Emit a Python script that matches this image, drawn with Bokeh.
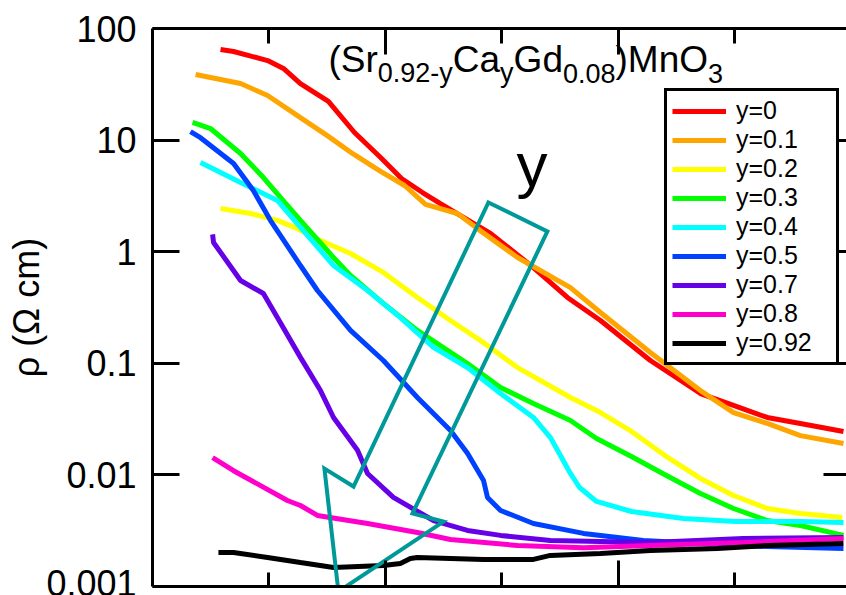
from bokeh.plotting import figure
from bokeh.models import LinearAxis, LogAxis, FixedTicker, Label, CustomJSTickFormatter
from bokeh.embed import file_html
from bokeh.resources import INLINE

# ---- data (temperature in K, resistivity in ohm cm) ----
T_y0 = [29.2, 34.8, 49.4, 56.2, 63.5, 75.5, 86.7, 97.9, 106.9, 115.9, 123.6, 137.8, 145.1, 163.5, 178.1, 192.3, 213.7, 235.2, 249.4, 263.9, 278.1, 296.6]
rho_y0 = [64.8, 62.2, 51.6, 43.9, 32.1, 22.2, 11.7, 6.98, 4.53, 3.39, 2.70, 1.79, 1.46, 0.721, 0.389, 0.242, 0.106, 0.0536, 0.0419, 0.0327, 0.0289, 0.0245]

T_y01 = [18.5, 37.8, 49.4, 63.5, 75.5, 85.8, 97.9, 108.2, 117.2, 130.9, 139.5, 156.7, 179.4, 192.3, 213.7, 235.2, 249.4, 263.9, 278.1, 296.6]
rho_y01 = [38.7, 32.1, 25.1, 15.9, 10.8, 7.59, 5.24, 3.92, 2.65, 2.20, 1.61, 0.887, 0.477, 0.285, 0.125, 0.0570, 0.0362, 0.0289, 0.0225, 0.0191]

T_y02 = [29.2, 42.1, 53.6, 62.2, 69.1, 85.0, 99.1, 113.7, 127.9, 142.1, 156.7, 179.4, 192.3, 205.6, 220.6, 235.2, 249.4, 263.9, 278.1, 296.1]
rho_y02 = [2.44, 2.20, 1.91, 1.61, 1.34, 0.964, 0.652, 0.389, 0.242, 0.153, 0.0916, 0.0494, 0.0362, 0.0245, 0.0146, 0.00929, 0.00654, 0.00500, 0.00451, 0.00415]

T_y03 = [17.2, 24.9, 37.8, 47.6, 54.9, 63.5, 77.7, 85.0, 99.1, 113.7, 135.2, 149.4, 163.5, 179.4, 190.6, 205.6, 220.6, 235.2, 249.4, 263.9, 278.1, 296.6]
rho_y03 = [14.4, 12.7, 7.59, 4.62, 3.06, 1.91, 0.887, 0.612, 0.344, 0.197, 0.0995, 0.0607, 0.0436, 0.0307, 0.0212, 0.0146, 0.00989, 0.00681, 0.00500, 0.00390, 0.00352, 0.00287]

T_y04 = [20.6, 37.8, 53.6, 63.5, 77.7, 92.3, 106.4, 120.6, 135.2, 149.4, 163.5, 170.8, 179.4, 183.3, 190.6, 205.6, 227.9, 250.2, 278.1, 296.6]
rho_y04 = [6.30, 4.17, 2.88, 1.65, 0.752, 0.449, 0.257, 0.139, 0.0916, 0.0536, 0.0327, 0.0216, 0.0103, 0.00771, 0.00578, 0.00470, 0.00406, 0.00382, 0.00382, 0.00374]

T_y05 = [16.3, 20.6, 34.8, 43.3, 50.6, 63.5, 70.8, 85.0, 99.1, 113.7, 127.9, 135.2, 142.1, 143.8, 149.4, 163.5, 185.0, 210.7, 235.2, 263.9, 296.6]
rho_y05 = [11.9, 10.5, 6.17, 3.53, 1.91, 0.752, 0.449, 0.197, 0.106, 0.0494, 0.0250, 0.0156, 0.00891, 0.00628, 0.00480, 0.00367, 0.00299, 0.00258, 0.00243, 0.00228, 0.00219]

T_y07 = [25.8, 26.2, 37.8, 47.6, 53.6, 63.5, 72.1, 77.7, 88.0, 92.3, 103.4, 120.6, 135.2, 149.4, 170.8, 213.7, 253.6, 296.6]
rho_y07 = [1.43, 1.21, 0.552, 0.422, 0.257, 0.113, 0.0570, 0.0327, 0.0166, 0.0103, 0.00628, 0.00390, 0.00318, 0.00287, 0.00258, 0.00248, 0.00269, 0.00275]

T_y08 = [25.8, 34.8, 57.9, 63.5, 70.8, 92.3, 113.7, 127.9, 156.7, 185.0, 213.7, 253.6, 296.6]
rho_y08 = [0.0143, 0.0109, 0.00590, 0.00532, 0.00433, 0.00367, 0.00305, 0.00264, 0.00233, 0.00223, 0.00233, 0.00248, 0.00269]

T_y092 = [28.3, 34.8, 49.4, 63.5, 77.7, 99.1, 106.4, 110.7, 113.7, 142.1, 163.5, 170.8, 192.3, 213.7, 242.5, 263.9, 296.6]
rho_y092 = [0.00202, 0.00202, 0.00182, 0.00164, 0.00148, 0.00154, 0.00161, 0.00178, 0.00182, 0.00175, 0.00175, 0.00190, 0.00198, 0.00210, 0.00219, 0.00233, 0.00243]

labels = ["y=0", "y=0.1", "y=0.2", "y=0.3", "y=0.4", "y=0.5", "y=0.7", "y=0.8", "y=0.92"]
colors = ["#FF0000", "#FFA500", "#FFFF00", "#00FF00", "#00FFFF", "#0040FF", "#6600E6", "#FF00CC", "#000000"]
series_T = [T_y0, T_y01, T_y02, T_y03, T_y04, T_y05, T_y07, T_y08, T_y092]
series_rho = [rho_y0, rho_y01, rho_y02, rho_y03, rho_y04, rho_y05, rho_y07, rho_y08, rho_y092]

# arrow annotation (in data coordinates)
arrow_T = [144.2, 169.5, 111.6, 124.9, 79.8, 73.8, 86.3]
arrow_rho = [2.76, 1.52, 0.00451, 0.00382, 0.000901, 0.0114, 0.00787]

y_ticks = [0.001, 0.01, 0.1, 1, 10, 100]
y_tick_labels = ["0.001", "0.01", "0.1", "1", "10", "100"]
x_major = [100, 200, 300]
x_minor = [50, 150, 250]

FONT = "Liberation Sans"

p = figure(width=846, height=595, y_axis_type="log",
           x_range=(0, 297.9), y_range=(0.001, 100),
           output_backend="svg", toolbar_location=None,
           min_border_left=152, min_border_right=0,
           min_border_top=28, min_border_bottom=9)
p.outline_line_color = None
p.grid.visible = False
p.background_fill_color = "white"

for T, rho, lab_, col in zip(series_T, series_rho, labels, colors):
    p.line(T, rho, line_color=col, line_width=5, legend_label=lab_)

p.patch(arrow_T, arrow_rho, fill_color=None, line_color="#009999",
        line_width=4, line_join="miter")

blank = CustomJSTickFormatter(code="return '';")

# left axis
ya = p.yaxis[0]
ya.ticker = FixedTicker(ticks=y_ticks)
ya.major_label_overrides = {t: l for t, l in zip(y_ticks, y_tick_labels)}
ya.major_tick_in = 27
ya.major_tick_out = 0
ya.minor_tick_line_color = None
ya.axis_line_width = 3
ya.major_tick_line_width = 3
ya.major_label_text_font = FONT
ya.major_label_text_font_size = "36px"
ya.major_label_text_color = "black"
ya.major_label_standoff = 16
ya.axis_label = "ρ (Ω cm)"
ya.axis_label_text_font = FONT
ya.axis_label_text_font_size = "36px"
ya.axis_label_text_font_style = "normal"
ya.axis_label_text_color = "black"
ya.axis_label_standoff = -4

# right axis (ticks only)
ra = LogAxis(ticker=FixedTicker(ticks=y_ticks), formatter=blank)
ra.axis_line_color = None
ra.major_tick_in = 23
ra.major_tick_out = 0
ra.major_tick_line_width = 3
ra.minor_tick_line_color = None
ra.major_label_standoff = 0
p.add_layout(ra, "right")

# bottom axis
xa = p.xaxis[0]
xa.ticker = FixedTicker(ticks=x_major, minor_ticks=x_minor)
xa.formatter = blank
xa.major_tick_in = 26
xa.major_tick_out = 0
xa.minor_tick_in = 14
xa.minor_tick_out = 0
xa.axis_line_width = 3
xa.major_tick_line_width = 3
xa.minor_tick_line_width = 3
xa.major_label_standoff = 0

# top axis
ta = LinearAxis(ticker=FixedTicker(ticks=x_major, minor_ticks=x_minor), formatter=blank)
ta.major_tick_in = 26
ta.major_tick_out = 0
ta.minor_tick_in = 15
ta.minor_tick_out = 0
ta.axis_line_width = 3
ta.major_tick_line_width = 3
ta.minor_tick_line_width = 3
ta.major_label_standoff = 0
p.add_layout(ta, "above")

# legend
lg = p.legend[0]
lg.location = (512, 221)
lg.label_text_font = FONT
lg.label_text_font_size = "25px"
lg.label_text_line_height = 1.0
lg.label_text_color = "black"
lg.glyph_width = 54
lg.glyph_height = 22
lg.label_height = 22
lg.label_width = 95
lg.label_standoff = 10
lg.spacing = 0
lg.padding = 5
lg.margin = 0
lg.border_line_color = "black"
lg.border_line_alpha = 1
lg.border_line_width = 3
lg.background_fill_alpha = 1

# texts (screen units relative to frame bottom-left)
def lab(text, x, y, size_px, angle=0, align="left"):
    p.add_layout(Label(x=x, y=y + 0.35 * size_px, x_units="screen", y_units="screen", text=text,
                       text_font=FONT, text_font_size=f"{size_px}px", text_color="black",
                       text_align=align, text_baseline="alphabetic", angle=angle))

base = 514   # baseline of main formula text, px above frame bottom
sub = 504    # baseline of subscripts
lab("(Sr", 176, base, 37)
lab("0.92-y", 225.3, sub, 27)
lab("Ca", 300.3, base, 37)
lab("y", 347.6, sub, 27)
lab("Gd", 361.1, base, 37)
lab("0.08", 410.5, sub, 27)
lab(")MnO", 463, base, 37)
lab("3", 555.5, sub, 27)
lab("y", 364, 400, 62)

open("out.html", "w").write(file_html(p, INLINE))
